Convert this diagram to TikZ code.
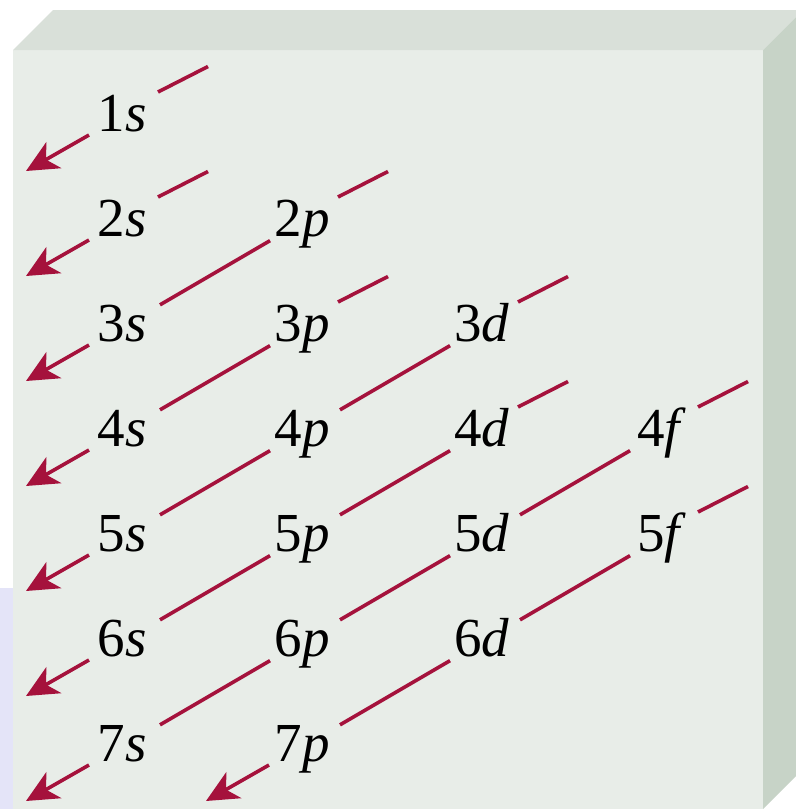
\documentclass[tikz,border=0pt]{standalone}
\usepackage{fontspec}
\setmainfont{Liberation Serif}
\usetikzlibrary{arrows.meta,calc}
\definecolor{frontc}{RGB}{232,237,232}
\definecolor{topc}{RGB}{217,224,217}
\definecolor{sidec}{RGB}{199,211,199}
\definecolor{lavc}{RGB}{228,228,248}
\definecolor{linec}{RGB}{165,18,60}
\tikzset{
  orb/.style={inner sep=0pt,text height=18.2pt,text depth=0pt,font=\fontsize{27.5}{32}\selectfont},
  dline/.style={draw=linec,line width=1.8pt,shorten <=22pt,shorten >=18.5pt,transform canvas={yshift=-2pt}},
  stub/.style={draw=linec,line width=1.8pt},
  arr/.style={draw=linec,line width=1.8pt,-{Stealth[length=16pt,width=15pt,inset=4.5pt]}}
}
\newcommand{\orbl}[2]{#1\textit{#2}}
\begin{document}
\begin{tikzpicture}[x=0.5pt,y=-0.5pt]
\useasboundingbox (0,0) rectangle (796,809);
\fill[white] (0,0) rectangle (796,809);
\fill[lavc] (0,588) rectangle (14,809);
% block
\fill[frontc] (13,50) rectangle (763,809);
\fill[topc] (13,50) -- (53,10) -- (803,10) -- (763,50) -- cycle;
\fill[sidec] (763,50) -- (803,10) -- (803,769) -- (763,809) -- cycle;
% labels
\foreach \n in {1,...,7}{\node[orb] (s\n) at (122,{113+105*(\n-1)}) {\orbl{\n}{s}};}
\foreach \n in {2,...,7}{\node[orb] (p\n) at (302,{113+105*(\n-1)}) {\orbl{\n}{p}};}
\foreach \n in {3,...,6}{\node[orb] (d\n) at (482,{113+105*(\n-1)}) {\orbl{\n}{d}};}
\foreach \n in {4,5}{\node[orb] (f\n) at (662,{113+105*(\n-1)}) {\orbl{\n}{f}};}
% stubs (upper right) at the top of each diagonal
\foreach \t in {s1,s2,p2,p3,d3,d4,f4,f5}{
  \coordinate (\t a) at ($(\t.center)+(36,-21)$);
  \coordinate (\t b) at ($(\t.center)+(86,-46.5)$);
  \draw[stub] (\t a) -- (\t b);
}
% diagonal segments
\draw[dline] (s3.center) -- (p2.center);
\draw[dline] (s4.center) -- (p3.center);
\draw[dline] (s5.center) -- (p4.center);
\draw[dline] (p4.center) -- (d3.center);
\draw[dline] (s6.center) -- (p5.center);
\draw[dline] (p5.center) -- (d4.center);
\draw[dline] (s7.center) -- (p6.center);
\draw[dline] (p6.center) -- (d5.center);
\draw[dline] (d5.center) -- (f4.center);
\draw[dline] (p7.center) -- (d6.center);
\draw[dline] (d6.center) -- (f5.center);
% arrows
\foreach \t in {s1,s2,s3,s4,s5,s6,s7,p7}{
  \coordinate (\t c) at ($(\t.center)+(-33,22)$);
  \coordinate (\t d) at ($(\t.center)+(-96,58)$);
  \draw[arr] (\t c) -- (\t d);
}
\end{tikzpicture}
\end{document}
